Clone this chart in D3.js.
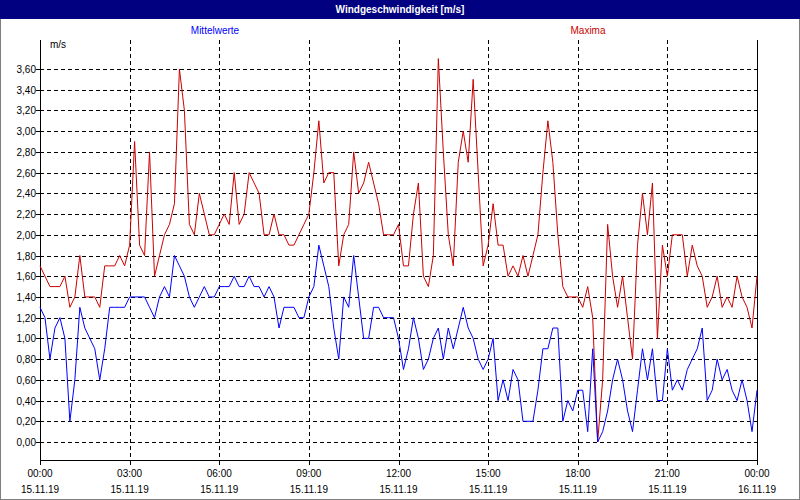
<!doctype html>
<html>
  <head>
    <script src="https://cdn.jsdelivr.net/npm/d3@7"></script>
    <style>
      body { margin:0; background:#fff; }
      text { font-family: "Liberation Sans", "DejaVu Sans", sans-serif; font-size: 10px; }
    </style>
  </head>
  <body>
    <script>
        // 10-minute values, 15.11.19 00:00 .. 16.11.19 00:00
        var mittel = [1.3,1.2,0.8,1.1,1.2,1.0,0.2,0.6,1.3,1.1,1.0,0.9,0.6,0.9,1.3,1.3,1.3,1.3,1.4,1.4,1.4,1.4,1.3,1.2,1.4,1.5,1.4,1.8,1.7,1.6,1.4,1.3,1.4,1.5,1.4,1.4,
            1.5,1.5,1.5,1.6,1.5,1.5,1.6,1.5,1.5,1.4,1.5,1.4,1.1,1.3,1.3,1.3,1.2,1.2,1.4,1.5,1.9,1.7,1.5,1.1,0.8,1.4,1.3,1.8,1.4,1.0,1.0,1.3,1.3,1.2,1.2,1.2,
            1.0,0.7,0.9,1.2,1.0,0.7,0.8,1.0,1.1,0.8,1.1,0.9,1.1,1.3,1.1,1.0,0.8,0.7,0.8,1.0,0.4,0.6,0.4,0.7,0.6,0.2,0.2,0.2,0.5,0.9,0.9,1.1,1.1,0.2,0.4,0.3,
            0.5,0.5,0.1,0.9,0.0,0.1,0.3,0.6,0.8,0.6,0.3,0.1,0.5,0.9,0.6,0.9,0.4,0.4,0.9,0.5,0.6,0.5,0.7,0.8,0.9,1.1,0.4,0.5,0.8,0.6,0.7,0.5,0.4,0.6,0.4,0.1,0.5];
        var maxima = [1.7,1.6,1.5,1.5,1.5,1.6,1.3,1.4,1.8,1.4,1.4,1.4,1.3,1.7,1.7,1.7,1.8,1.7,1.9,2.9,1.9,1.8,2.8,1.6,1.8,2.0,2.1,2.3,3.6,3.2,2.1,2.0,2.4,2.2,2.0,2.0,
            2.1,2.2,2.1,2.6,2.1,2.2,2.6,2.5,2.4,2.0,2.0,2.2,2.0,2.0,1.9,1.9,2.0,2.1,2.2,2.6,3.1,2.5,2.6,2.6,1.7,2.0,2.1,2.8,2.4,2.5,2.7,2.5,2.3,2.0,2.0,2.0,
            2.1,1.7,1.7,2.2,2.5,1.6,1.5,1.8,3.7,2.8,2.0,1.7,2.7,3.0,2.7,3.5,2.6,1.7,1.9,2.3,1.9,1.9,1.6,1.7,1.6,1.8,1.6,1.8,2.0,2.6,3.1,2.7,2.0,1.5,1.4,1.4,
            1.4,1.3,1.5,1.2,0.0,0.6,2.1,1.6,1.3,1.6,1.2,0.8,1.9,2.4,2.0,2.5,1.0,1.9,1.6,2.0,2.0,2.0,1.6,1.9,1.7,1.6,1.3,1.4,1.6,1.3,1.4,1.3,1.6,1.4,1.3,1.1,1.6];
        var yTicks = [0,0.2,0.4,0.6,0.8,1.0,1.2,1.4,1.6,1.8,2.0,2.2,2.4,2.6,2.8,3.0,3.2,3.4,3.6];
        var xTimes = ["00:00","03:00","06:00","09:00","12:00","15:00","18:00","21:00","00:00"];
        var xDates = ["15.11.19","15.11.19","15.11.19","15.11.19","15.11.19","15.11.19","15.11.19","15.11.19","16.11.19"];

        var W = 800, H = 500;
        var svg = d3.select("body").append("svg").attr("width", W).attr("height", H);

        svg.append("rect").attr("x",0.5).attr("y",0.5).attr("width",W-1).attr("height",H-1)
            .attr("fill","#fff").attr("stroke","#808080");
        svg.append("rect").attr("x",0).attr("y",0).attr("width",W).attr("height",19).attr("fill","#000080");
        svg.append("text").attr("x",W/2).attr("y",13).attr("text-anchor","middle")
            .attr("fill","#fff").style("font-weight","bold").text("Windgeschwindigkeit [m/s]");

        svg.append("text").attr("x",215).attr("y",34).attr("text-anchor","middle").attr("fill","#0000ff").text("Mittelwerte");
        svg.append("text").attr("x",588).attr("y",34).attr("text-anchor","middle").attr("fill","#cc0000").text("Maxima");
        svg.append("text").attr("x",50).attr("y",48).attr("text-anchor","start").text("m/s");

        var x = d3.scaleLinear().domain([0, 144]).range([40, 757]);
        var y = d3.scaleLinear().domain([0, 3.6]).range([442, 69]);

        var g = svg.append("g").attr("shape-rendering","crispEdges");
        // horizontal grid
        g.selectAll(".hg").data(yTicks).enter().append("line")
            .attr("x1",40).attr("x2",757).attr("y1",d => Math.round(y(d))+0.5).attr("y2",d => Math.round(y(d))+0.5)
            .attr("stroke","#000").attr("stroke-dasharray","4,3");
        g.selectAll(".yt").data(yTicks).enter().append("line")
            .attr("x1",36).attr("x2",40).attr("y1",d => Math.round(y(d))+0.5).attr("y2",d => Math.round(y(d))+0.5)
            .attr("stroke","#000");
        svg.selectAll(".yl").data(yTicks).enter().append("text")
            .attr("x",36).attr("y",d => y(d)+4).attr("text-anchor","end")
            .text(d => d.toFixed(2).replace(".", ","));
        // vertical grid
        g.selectAll(".vg").data(xTimes.slice(1,8)).enter().append("line")
            .attr("x1",(d,i) => Math.round(x((i+1)*18))+0.5).attr("x2",(d,i) => Math.round(x((i+1)*18))+0.5)
            .attr("y1",40).attr("y2",460).attr("stroke","#000").attr("stroke-dasharray","4,3");
        g.selectAll(".xt").data(xTimes).enter().append("line")
            .attr("x1",(d,i) => Math.round(x(i*18))+0.5).attr("x2",(d,i) => Math.round(x(i*18))+0.5)
            .attr("y1",460).attr("y2",465).attr("stroke","#000");
        // axes
        g.append("line").attr("x1",40.5).attr("x2",40.5).attr("y1",40).attr("y2",460).attr("stroke","#000");
        g.append("line").attr("x1",757.5).attr("x2",757.5).attr("y1",40).attr("y2",460).attr("stroke","#000");
        g.append("line").attr("x1",40).attr("x2",758).attr("y1",460.5).attr("y2",460.5).attr("stroke","#000");

        svg.selectAll(".xl").data(xTimes).enter().append("text")
            .attr("x",(d,i) => x(i*18)).attr("y",477).attr("text-anchor","middle").text(d => d);
        svg.selectAll(".xd").data(xDates).enter().append("text")
            .attr("x",(d,i) => x(i*18)).attr("y",493).attr("text-anchor","middle").text(d => d);

        var line = d3.line().x((d,i) => x(i)).y(d => y(d));
        svg.append("path").datum(maxima).attr("d",line).attr("fill","none").attr("stroke","#cc0000").attr("stroke-width",1);
        svg.append("path").datum(mittel).attr("d",line).attr("fill","none").attr("stroke","#0000ff").attr("stroke-width",1);
    </script>
  </body>
</html>
